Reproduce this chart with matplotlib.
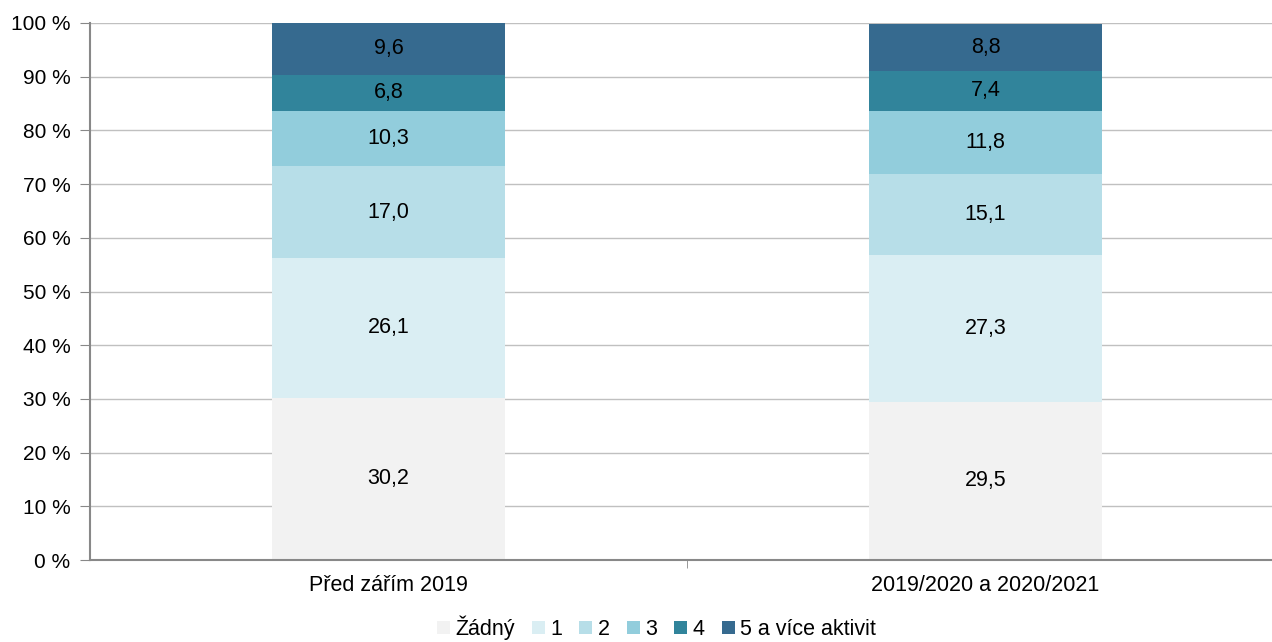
import numpy as np
import matplotlib.pyplot as plt

plt.rcParams['font.family'] = ['Liberation Sans', 'DejaVu Sans']

categories = ['Před zářím 2019', '2019/2020 a 2020/2021']
series_names = ['Žádný', '1', '2', '3', '4', '5 a více aktivit']
values = {
    'Žádný': [30.2, 29.5],
    '1': [26.1, 27.3],
    '2': [17.0, 15.1],
    '3': [10.3, 11.8],
    '4': [6.8, 7.4],
    '5 a více aktivit': [9.6, 8.8],
}
colors = ['#f2f2f2', '#daeef3', '#b7dee8', '#92cddc', '#31849b', '#366a8f']

fig = plt.figure(figsize=(12.72, 6.42), dpi=100)
ax = fig.add_axes([90 / 1272, 1 - 560 / 642, 1194 / 1272, 537 / 642])

x = np.arange(len(categories))
bottom = np.zeros(len(categories))
for name, col in zip(series_names, colors):
    v = np.array(values[name])
    ax.bar(x, v, 0.39, bottom=bottom, color=col, label=name, zorder=2)
    for xi, b, vi in zip(x, bottom, v):
        ax.text(xi, b + vi / 2, f'{vi:.1f}'.replace('.', ','), ha='center', va='center',
                fontsize=15.5, color='black', zorder=3)
    bottom += v

ax.set_xlim(-0.5, 1.5)
ax.set_ylim(0, 100)
ax.set_yticks(range(0, 101, 10))
ax.set_yticklabels([f'{t} %' for t in range(0, 101, 10)])
ax.set_xticks(x)
ax.set_xticklabels(categories)
ax.set_xticks([0.5], minor=True)
ax.tick_params(axis='x', which='major', length=0, labelsize=15.5, pad=11)
ax.tick_params(axis='x', which='minor', length=6, color='#888888')
ax.tick_params(axis='y', length=7, color='#888888', labelsize=15, pad=7)

ax.grid(axis='y', color='#c0c0c0', linewidth=1, zorder=0)
ax.set_axisbelow(True)
for s in ['top', 'right']:
    ax.spines[s].set_visible(False)
for s in ['left', 'bottom']:
    ax.spines[s].set_color('#888888')
    ax.spines[s].set_linewidth(1.5)

fig.legend(loc='center', bbox_to_anchor=(0.516, 0.022), ncol=6, frameon=False,
           fontsize=15.5, handlelength=0.6, handleheight=0.6, handletextpad=0.25,
           columnspacing=0.8, borderpad=0)

fig.savefig('out.png', dpi=100)
